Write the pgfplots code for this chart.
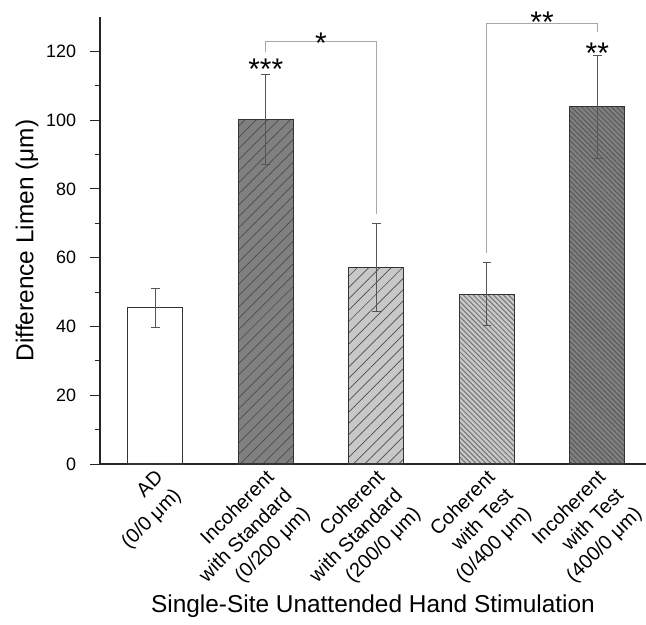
\documentclass[border=0pt]{standalone}
\usepackage{fontspec}
\setmainfont{Liberation Sans}
\usepackage{pgfplots}
\pgfplotsset{compat=1.18}
\usetikzlibrary{patterns.meta}
\definecolor{darkbar}{HTML}{808080}
\definecolor{lightbar}{HTML}{C8C8C8}
\definecolor{edge}{HTML}{333333}
\definecolor{errc}{HTML}{555555}
\definecolor{brk}{HTML}{A8A8A8}
\pgfplotsset{
  mybar/.style={ybar, bar width=55bp, bar shift=0pt, draw=edge, line width=1.2bp,
    error bars/y dir=both, error bars/y explicit,
    error bars/error bar style={color=errc, line width=0.8bp},
    error bars/error mark options={rotate=90, mark size=4.3bp, line width=0.8bp, color=errc}},
}
\begin{document}
\begin{tikzpicture}
\begin{axis}[
  scale only axis, width=546bp, height=447bp,
  xmin=0.5, xmax=5.44, ymin=0, ymax=130,
  clip=false,
  axis x line*=bottom, axis y line*=left,
  axis line style={-, color=black!85, line width=1.1bp},
  xtick={1,2,3,4,5},
  xticklabels={{AD\\(0/0 μm)},{Incoherent\\with Standard\\(0/200 μm)},{Coherent\\with Standard\\(200/0 μm)},{Coherent\\with Test\\(0/400 μm)},{Incoherent\\with Test\\(400/0 μm)}},
  xtick style={draw=none},
  ytick={0,20,...,120},
  minor y tick num=1,
  tick align=outside,
  major tick length=10bp, minor tick length=5bp,
  ytick style={color=black!85, line width=0.9bp},
  yticklabel style={font=\fontsize{18}{21}\selectfont, anchor=east, inner sep=0pt, xshift=-13.7bp},
  /pgf/number format/assume math mode=true,
  xticklabel style={font=\fontsize{20}{25.5}\selectfont, xshift=-1bp, yshift=5.5bp, align=right, anchor=north east, rotate=45, inner sep=0pt},
  xlabel={Single-Site Unattended Hand Stimulation},
  ylabel={Difference Limen (μm)},
  xlabel style={at={(axis description cs:0.5,-0.3311)}, anchor=base, font=\fontsize{24.5}{28}\selectfont},
  ylabel style={at={(axis description cs:-0.1218,0.5)}, anchor=base, font=\fontsize{24.5}{28}\selectfont},
]
\addplot[mybar, fill=white] coordinates {(1,45.4) +- (0,5.7)};
\addplot[mybar, fill=darkbar, postaction={pattern={Lines[angle=45,distance=8bp,line width=0.7bp]}, pattern color=black!70}] coordinates {(2,100.2) +- (0,13.2)};
\addplot[mybar, fill=lightbar, postaction={pattern={Lines[angle=45,distance=8bp,line width=0.7bp]}, pattern color=black!70}] coordinates {(3,57.1) +- (0,12.8)};
\addplot[mybar, fill=lightbar, postaction={pattern={Lines[angle=-45,distance=3.55bp,line width=1bp]}, pattern color=black!55}] coordinates {(4,49.4) +- (0,9.2)};
\addplot[mybar, fill=darkbar, postaction={pattern={Lines[angle=-45,distance=3.55bp,line width=1bp]}, pattern color=black!65}] coordinates {(5,103.9) +- (0,14.9)};
\addplot[sharp plot, no marks, draw=brk, line width=1.2bp] coordinates {(2,119.8) (2,122.8) (3,122.8) (3,72.6)};
\addplot[sharp plot, no marks, draw=brk, line width=1.2bp] coordinates {(4,61.5) (4,128) (5,128) (5,125.6)};
\node[font=\fontsize{30}{30}\selectfont, anchor=base, inner sep=0pt] at (axis cs:2,111.8) {***};
\node[font=\fontsize{30}{30}\selectfont, anchor=base, inner sep=0pt] at (axis cs:2.5,119.5) {*};
\node[font=\fontsize{30}{30}\selectfont, anchor=base, inner sep=0pt] at (axis cs:4.5,125.5) {**};
\node[font=\fontsize{30}{30}\selectfont, anchor=base, inner sep=0pt] at (axis cs:5,116.6) {**};
\end{axis}
\pgfresetboundingbox
\path[use as bounding box] ([xshift=-100bp,yshift=-161bp]current axis.south west) rectangle ([yshift=17bp]current axis.north east);
\end{tikzpicture}
\end{document}
